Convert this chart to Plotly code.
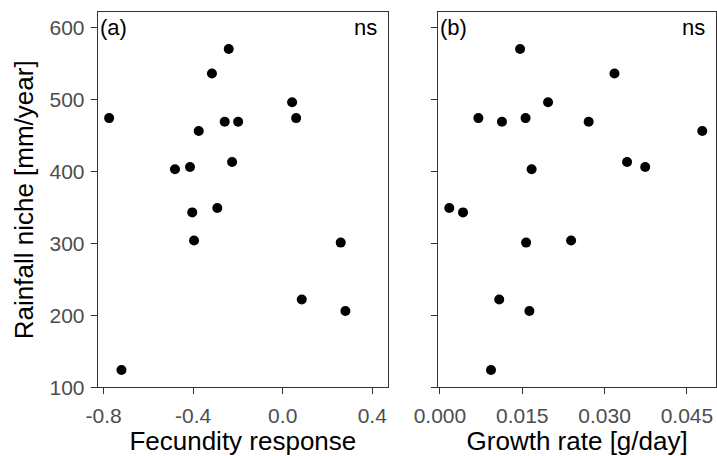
import plotly.graph_objects as go

# Data
fecundity = [-0.775, -0.72, -0.481, -0.414, -0.404, -0.396, -0.375, -0.316, -0.292,
             -0.259, -0.241, -0.226, -0.199, 0.042, 0.060, 0.085, 0.259, 0.280]
rain_a = [474, 124, 403, 406, 343, 304, 456, 536, 349, 469, 570, 413, 469, 496, 474, 222, 301, 206]

growth = [0.0017, 0.0042, 0.0070, 0.0113, 0.0093, 0.0108, 0.0146, 0.0156, 0.0157,
          0.0163, 0.0167, 0.0197, 0.0239, 0.0271, 0.0318, 0.0341, 0.0374, 0.0478]
rain_b = [349, 343, 474, 469, 124, 222, 570, 474, 301, 206, 403, 496, 304, 469, 536, 413, 406, 456]

y_ticks = [100, 200, 300, 400, 500, 600]
xa_ticks = [-0.8, -0.4, 0.0, 0.4]
xa_labels = ["-0.8", "-0.4", "0.0", "0.4"]
xb_ticks = [0.0, 0.015, 0.030, 0.045]
xb_labels = ["0.000", "0.015", "0.030", "0.045"]

FONT = "Liberation Sans, Arial, sans-serif"
TICKC = "#4D4D4D"

fig = go.Figure()
fig.add_trace(go.Scatter(x=fecundity, y=rain_a, mode="markers", xaxis="x", yaxis="y",
                         marker=dict(color="black", size=10), showlegend=False))
fig.add_trace(go.Scatter(x=growth, y=rain_b, mode="markers", xaxis="x2", yaxis="y2",
                         marker=dict(color="black", size=10), showlegend=False))

axis_common = dict(showgrid=False, zeroline=False, showline=True, mirror=True,
                   linecolor="#333333", linewidth=1, ticks="outside", ticklen=6,
                   tickwidth=1, tickcolor="#333333", automargin=False,
                   tickfont=dict(family=FONT, size=21, color=TICKC))

title_font = dict(family=FONT, size=26, color="black")
ann_font = dict(family=FONT, size=22, color="black")

fig.update_layout(
    width=717, height=456,
    margin=dict(l=0, r=0, t=0, b=0),
    plot_bgcolor="white", paper_bgcolor="white",
    font=dict(family=FONT),
    xaxis=dict(domain=[0.1363, 0.5411], range=[-0.826, 0.470], anchor="y",
               tickvals=xa_ticks, ticktext=xa_labels, ticklabelstandoff=4,
               title=dict(text="Fecundity response", font=title_font, standoff=10),
               **axis_common),
    yaxis=dict(domain=[0.1507, 0.973], range=[100, 621], anchor="x",
               tickvals=y_ticks, ticklabelstandoff=2,
               title=dict(text="Rainfall niche [mm/year]", font=title_font, standoff=8),
               **axis_common),
    xaxis2=dict(domain=[0.6113, 0.9986], range=[-0.0003, 0.0503], anchor="y2",
                tickvals=xb_ticks, ticktext=xb_labels, ticklabelstandoff=4,
                title=dict(text="Growth rate [g/day]", font=title_font, standoff=10),
                **axis_common),
    yaxis2=dict(domain=[0.1507, 0.973], range=[100, 621], anchor="x2",
                tickvals=y_ticks, showticklabels=False,
                **axis_common),
    annotations=[
        dict(text="(a)", xref="x domain", yref="y domain", x=0.0, y=1.0, xanchor="left", yanchor="top",
             xshift=0, yshift=-1, showarrow=False, font=ann_font),
        dict(text="ns", xref="x domain", yref="y domain", x=1.0, y=1.0, xanchor="right", yanchor="top",
             xshift=-9, yshift=-1, showarrow=False, font=ann_font),
        dict(text="(b)", xref="x2 domain", yref="y2 domain", x=0.0, y=1.0, xanchor="left", yanchor="top",
             xshift=0, yshift=-1, showarrow=False, font=ann_font),
        dict(text="ns", xref="x2 domain", yref="y2 domain", x=1.0, y=1.0, xanchor="right", yanchor="top",
             xshift=-9, yshift=-1, showarrow=False, font=ann_font),
    ],
)

fig.write_html("out.html")
